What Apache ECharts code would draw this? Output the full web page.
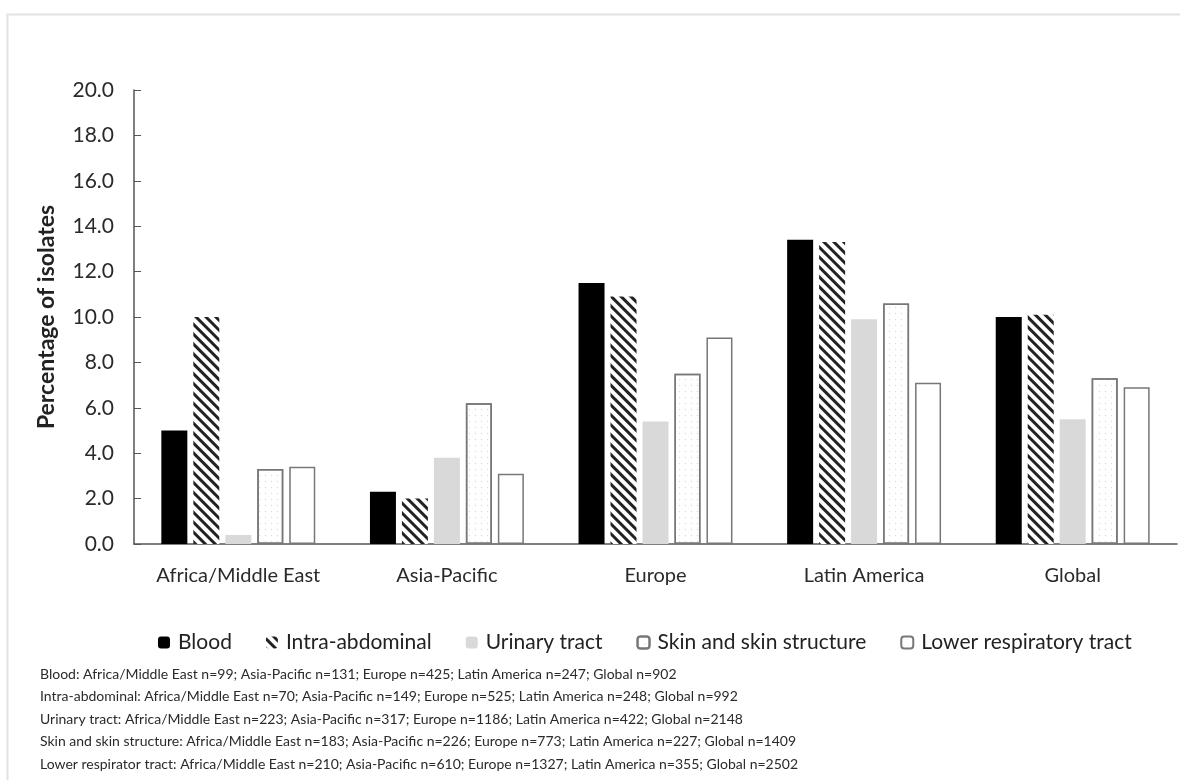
<!DOCTYPE html>
<html>
<head>
<meta charset="utf-8">
<script src="https://cdn.jsdelivr.net/npm/echarts@6/dist/echarts.min.js"></script>
<style>
html,body{margin:0;padding:0;background:#fff;}
#chart{width:1180px;height:780px;}
</style>
</head>
<body>
<div id="chart"></div>
<script>
const categories = ['Africa/Middle East', 'Asia-Pacific', 'Europe', 'Latin America', 'Global'];
const blood = [5.0, 2.3, 11.5, 13.4, 10.0];
const intraAbdominal = [10.0, 2.0, 10.9, 13.3, 10.1];
const urinaryTract = [0.4, 3.8, 5.4, 9.9, 5.5];
const skinStructure = [3.3, 6.2, 7.5, 10.6, 7.3];
const lowerRespiratory = [3.4, 3.1, 9.1, 7.1, 6.9];
const yTicks = [0, 2, 4, 6, 8, 10, 12, 14, 16, 18, 20];
const footnotes = [
  'Blood: Africa/Middle East n=99; Asia-Pacific n=131; Europe n=425; Latin America n=247; Global n=902',
  'Intra-abdominal: Africa/Middle East n=70; Asia-Pacific n=149; Europe n=525; Latin America n=248; Global n=992',
  'Urinary tract: Africa/Middle East n=223; Asia-Pacific n=317; Europe n=1186; Latin America n=422; Global n=2148',
  'Skin and skin structure: Africa/Middle East n=183; Asia-Pacific n=226; Europe n=773; Latin America n=227; Global n=1409',
  'Lower respirator tract: Africa/Middle East n=210; Asia-Pacific n=610; Europe n=1327; Latin America n=355; Global n=2502'
];

const FONT = 'Lato, "Liberation Sans", sans-serif';
const chart = echarts.init(document.getElementById('chart'), null, {renderer: 'canvas'});

const footGraphics = footnotes.map((t, i) => ({
  type: 'text', left: 40, top: 667 + i * 22.6,
  style: {text: t, fontFamily: FONT, fontSize: 14, fill: '#2a2a2a'}
}));

const option = {
  backgroundColor: '#fff',
  animation: false,
  grid: {left: 134, right: 3, top: 90, bottom: 236, containLabel: false},
  legend: {
    left: 153, top: 627,
    itemWidth: 12, itemHeight: 12, itemGap: 34,
    textStyle: {fontFamily: FONT, fontSize: 21, color: '#222', padding: [0, 0, 0, 3]},
    data: ['Blood', 'Intra-abdominal', 'Urinary tract', 'Skin and skin structure', 'Lower respiratory tract']
  },
  xAxis: {
    type: 'category', data: categories,
    axisLine: {lineStyle: {color: '#555', width: 1.5}},
    axisTick: {show: false},
    axisLabel: {interval: 0, fontFamily: FONT, fontSize: 20, color: '#2a2a2a', margin: 22}
  },
  yAxis: {
    type: 'value', min: 0, max: 20, interval: 2,
    name: 'Percentage of isolates', nameLocation: 'middle', nameGap: 76,
    nameTextStyle: {fontFamily: FONT, fontSize: 23, fontWeight: 'bold', color: '#222'},
    axisLine: {show: true, lineStyle: {color: '#555', width: 1.5}},
    axisTick: {show: true, inside: true, length: 7, lineStyle: {color: '#555'}},
    splitLine: {show: false},
    axisLabel: {fontFamily: FONT, fontSize: 21, color: '#2a2a2a', margin: 20,
      formatter: v => yTicks.includes(v) ? v.toFixed(1) : ''}
  },
  graphic: [
    {type: 'rect', left: 5, top: 12, shape: {width: 1200, height: 800},
     style: {fill: 'none', stroke: '#e2e2e2', lineWidth: 2}, silent: true, z: -1}
  ].concat(footGraphics),
  series: [
    {name: 'Blood', type: 'bar', data: blood, barWidth: 26, barGap: '23%',
     itemStyle: {color: '#000'}},
    {name: 'Intra-abdominal', type: 'bar', data: intraAbdominal, barWidth: 26,
     itemStyle: {color: '#fff', decal: {symbol: 'rect', color: '#222', dashArrayX: [1, 0], dashArrayY: [3, 4], rotation: Math.PI / 4}}},
    {name: 'Urinary tract', type: 'bar', data: urinaryTract, barWidth: 26,
     itemStyle: {color: '#d9d9d9'}},
    {name: 'Skin and skin structure', type: 'bar', data: skinStructure, barWidth: 26,
     itemStyle: {color: '#fff', borderColor: '#777', borderWidth: 1.5,
       decal: {symbol: 'circle', symbolSize: 0.5, color: '#ddd', dashArrayX: [[3, 3]], dashArrayY: [3, 3]}}},
    {name: 'Lower respiratory tract', type: 'bar', data: lowerRespiratory, barWidth: 26,
     itemStyle: {color: '#fff', borderColor: '#777', borderWidth: 1.5}}
  ]
};
chart.setOption(option);
</script>
</body>
</html>
